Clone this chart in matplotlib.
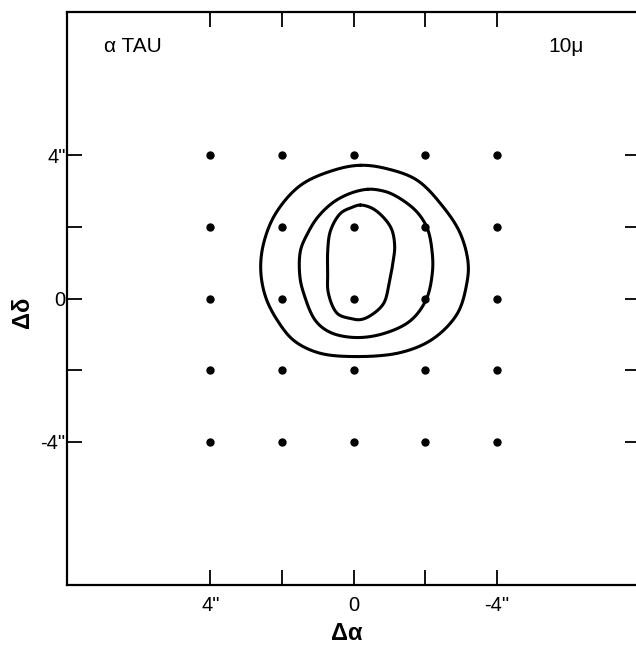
import numpy as np
import matplotlib
matplotlib.use("Agg")
import matplotlib.pyplot as plt

plt.rcParams['font.family'] = ['Liberation Sans', 'DejaVu Sans']

# observation grid (arcsec)
grid_ra = [4, 2, 0, -2, -4]
grid_dec = [4, 2, 0, -2, -4]

# contour traces (Δα, Δδ) in arcsec
outer_x = [-0.19, 0.56, 1.48, 2.17, 2.51, 2.59, 2.45, 2.12, 1.67, 1.00, 0.08, -1.31, -2.23, -2.90, -3.16, -3.20, -2.98, -2.51, -1.78, -0.95]
outer_y = [3.72, 3.58, 3.16, 2.38, 1.54, 0.78, 0.03, -0.62, -1.17, -1.51, -1.62, -1.51, -1.12, -0.42, 0.40, 1.00, 1.82, 2.55, 3.30, 3.62]

middle_x = [-0.39, 0.08, 0.56, 1.00, 1.28, 1.48, 1.50, 1.39, 1.06, 0.64, -0.06, -0.84, -1.59, -2.03, -2.20, -2.20, -2.06, -1.73, -1.11, -0.75]
middle_y = [3.05, 2.94, 2.69, 2.27, 1.82, 1.34, 0.64, 0.14, -0.62, -0.95, -1.09, -0.98, -0.62, -0.03, 0.70, 1.26, 1.96, 2.46, 2.90, 3.02]

inner_x = [-0.19, 0.03, 0.36, 0.64, 0.72, 0.72, 0.70, 0.45, 0.08, -0.19, -0.47, -0.84, -1.00, -1.10, -1.15, -1.07, -0.85, -0.52]
inner_y = [2.61, 2.55, 2.38, 1.90, 1.34, 0.78, 0.14, -0.42, -0.56, -0.59, -0.48, -0.14, 0.45, 1.00, 1.45, 1.92, 2.25, 2.52]

tick_vals = [4, 2, 0, -2, -4]
tick_labels = ['4"', '', '0', '', '-4"']


def smooth_closed(xs, ys, n=30, alpha=0.5):
    """Closed centripetal Catmull-Rom smoothing through the traced points."""
    P = np.column_stack([xs, ys]).astype(float)
    m = len(P)
    out = []
    for i in range(m):
        p0, p1, p2, p3 = P[(i - 1) % m], P[i], P[(i + 1) % m], P[(i + 2) % m]
        t0 = 0.0
        t1 = t0 + np.linalg.norm(p1 - p0) ** alpha
        t2 = t1 + np.linalg.norm(p2 - p1) ** alpha
        t3 = t2 + np.linalg.norm(p3 - p2) ** alpha
        t = np.linspace(t1, t2, n, endpoint=False)[:, None]
        a1 = (t1 - t) / (t1 - t0) * p0 + (t - t0) / (t1 - t0) * p1
        a2 = (t2 - t) / (t2 - t1) * p1 + (t - t1) / (t2 - t1) * p2
        a3 = (t3 - t) / (t3 - t2) * p2 + (t - t2) / (t3 - t2) * p3
        b1 = (t2 - t) / (t2 - t0) * a1 + (t - t0) / (t2 - t0) * a2
        b2 = (t3 - t) / (t3 - t1) * a2 + (t - t1) / (t3 - t1) * a3
        c = (t2 - t) / (t2 - t1) * b1 + (t - t1) / (t2 - t1) * b2
        out.append(c)
    out = np.vstack(out + [out[0][:1]])
    return out[:, 0], out[:, 1]


fig = plt.figure(figsize=(6.36, 6.45), dpi=100)
ax = fig.add_axes([67 / 636, 60 / 645, 573 / 636, 573 / 645])

gx, gy = np.meshgrid(grid_ra, grid_dec)
ax.plot(gx.ravel(), gy.ravel(), 'o', color='black', markersize=5, linestyle='none')

for xs, ys in [(outer_x, outer_y), (middle_x, middle_y), (inner_x, inner_y)]:
    sx, sy = smooth_closed(xs, ys)
    ax.plot(sx, sy, color='black', lw=2.2, solid_capstyle='round',
            solid_joinstyle='round')

ax.set_xlim(8, -8)
ax.set_ylim(-8, 8)

ax.set_xticks(tick_vals)
ax.set_xticklabels(tick_labels, fontsize=14.5)
ax.set_yticks(tick_vals)
ax.set_yticklabels(tick_labels, fontsize=14.5)
ax.tick_params(axis='both', direction='in', length=11, width=1.3,
               top=True, right=True)
ax.tick_params(axis='x', pad=8)
ax.tick_params(axis='y', pad=1)

for s in ax.spines.values():
    s.set_linewidth(1.6)

ax.text(0.065, 0.94, 'α TAU', transform=ax.transAxes, fontsize=15,
        ha='left', va='center')
ax.text(0.84, 0.94, '10μ', transform=ax.transAxes, fontsize=15,
        ha='left', va='center')

fig.text(347 / 636, 1 - 634 / 645, 'Δα', fontsize=17, fontweight='bold',
         ha='center', va='center')
fig.text(22 / 636, 1 - 312 / 645, 'Δδ', fontsize=17, fontweight='bold',
         ha='center', va='center', rotation=90)

fig.savefig('out.png', dpi=100)
